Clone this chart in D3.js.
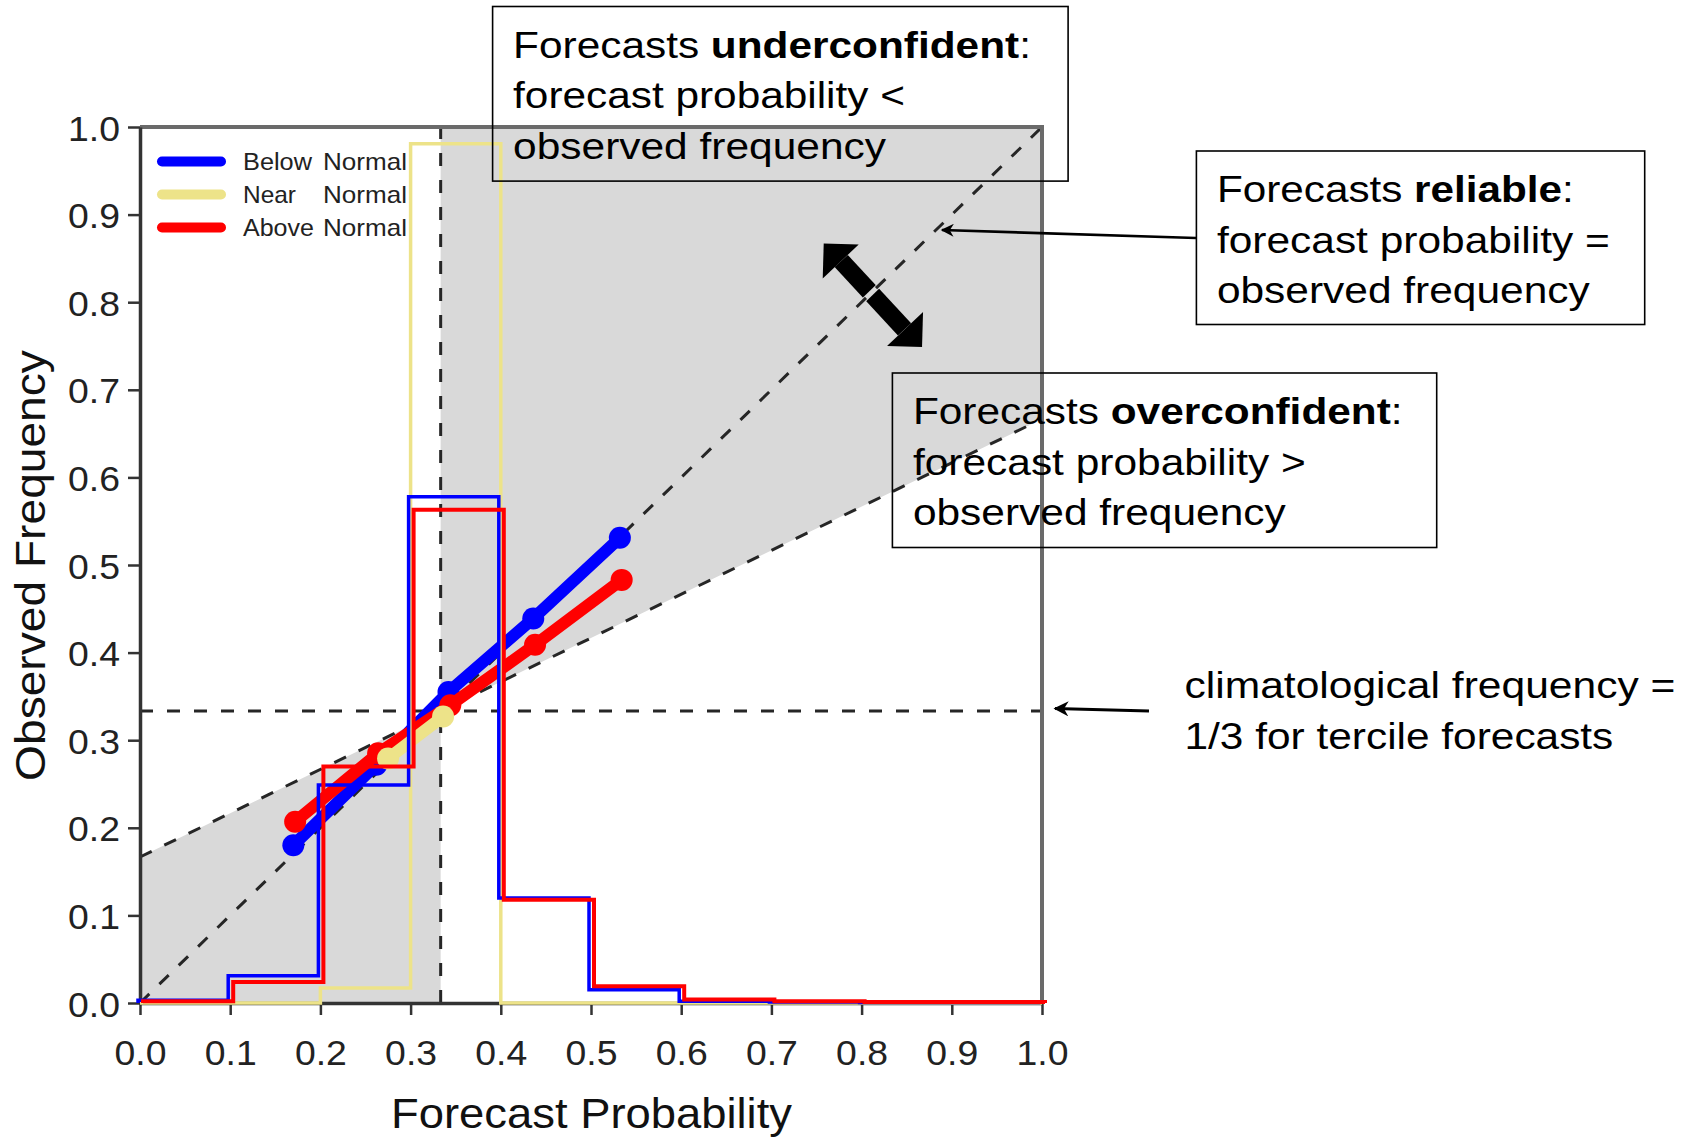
<!DOCTYPE html>
<html>
<head>
<meta charset="utf-8">
<script src="https://cdn.jsdelivr.net/npm/d3@7"></script>
<style>
  html, body { margin: 0; padding: 0; background: #ffffff; }
  svg { display: block; font-family: "Liberation Sans", Arial, Helvetica, sans-serif; }
</style>
</head>
<body>
<svg id="chart" width="1690" height="1137"></svg>
<script>
// Reliability diagram for tercile forecasts (Below / Near / Above Normal)

// axis ticks
const tickValues = [0, 0.1, 0.2, 0.3, 0.4, 0.5, 0.6, 0.7, 0.8, 0.9, 1.0];
const tickLabels = ["0.0", "0.1", "0.2", "0.3", "0.4", "0.5", "0.6", "0.7", "0.8", "0.9", "1.0"];

// forecast probability bins (left edges, width 0.1)
const binStarts = [0, 0.1, 0.2, 0.3, 0.4, 0.5, 0.6, 0.7, 0.8, 0.9];

// category names
const categories = ["Below Normal", "Near Normal", "Above Normal"];

// reliability curves: mean forecast probability vs observed frequency
const belowFcst = [0.170, 0.262, 0.342, 0.436, 0.532];
const belowObs  = [0.180, 0.272, 0.355, 0.439, 0.531];
const nearFcst  = [0.275, 0.336];
const nearObs   = [0.279, 0.327];
const aboveFcst = [0.172, 0.264, 0.344, 0.438, 0.534];
const aboveObs  = [0.207, 0.285, 0.340, 0.409, 0.483];

// relative frequency of forecasts in each probability bin
const belowHist = [0.003, 0.031, 0.249, 0.578, 0.120, 0.015, 0.002, 0.001, 0.0005, 0.0005];
const nearHist  = [0.000, 0.000, 0.017, 0.981, 0.000, 0.000, 0.000, 0.000, 0.000, 0.000];
const aboveHist = [0.002, 0.024, 0.270, 0.563, 0.118, 0.019, 0.004, 0.002, 0.001, 0.001];

// reference values
const climFreq = 1 / 3;

const svg = d3.select("#chart");
const X = d3.scaleLinear().domain([0, 1]).range([140, 1042]);
const Y = d3.scaleLinear().domain([0, 1]).range([1003, 127]);

const colors = { below: "#0000ff", near: "#ede389", above: "#ff0000" };
const shade = "#d9d9d9";
const dashCol = "#262626";
const noSkill = x => (x + climFreq) / 2;

// place a text (optionally mixed bold parts) and stretch it horizontally to a width
function fitText(parent, x, y, parts, size, width, opts = {}) {
  const t = parent.append("text")
    .attr("font-size", size)
    .attr("fill", opts.fill || "#000")
    .attr("text-anchor", opts.anchor || "start")
    .attr("letter-spacing", opts.spacing || 0);
  parts.forEach(p => {
    t.append("tspan").attr("font-weight", p[1] ? "bold" : "normal").text(p[0]);
  });
  const natural = t.node().getComputedTextLength();
  const k = width ? width / natural : 1;
  const rot = opts.rotate ? ` rotate(${opts.rotate})` : "";
  t.attr("transform", `translate(${x},${y})${rot} scale(${k},1)`);
  return t;
}

// ---- shaded skill region ----
const shadeLeft = [[0, 0], [0, noSkill(0)], [climFreq, noSkill(climFreq)], [climFreq, 0]];
const shadeRight = [[climFreq, noSkill(climFreq)], [1, noSkill(1)], [1, 1], [climFreq, 1]];
const poly = d3.line().x(d => X(d[0])).y(d => Y(d[1]));
[shadeLeft, shadeRight].forEach(p => {
  svg.append("path").attr("d", poly(p) + "Z").attr("fill", shade);
});

// ---- double arrow across the perfect-reliability line ----
const arrA = [X(0.758), Y(0.867)];
const arrB = [X(0.867), Y(0.749)];
const head = 35;
const arrowG = svg.append("g");
arrowG.append("line")
  .attr("x1", arrA[0] + head / 2).attr("y1", arrA[1] + head / 2)
  .attr("x2", arrB[0] - head / 2).attr("y2", arrB[1] - head / 2)
  .attr("stroke", "#000").attr("stroke-width", 18);
arrowG.append("path")
  .attr("d", `M${arrA[0]},${arrA[1]}L${arrA[0] + head},${arrA[1] + 1}L${arrA[0] - 1},${arrA[1] + head}Z`)
  .attr("fill", "#000");
arrowG.append("path")
  .attr("d", `M${arrB[0]},${arrB[1]}L${arrB[0] - head},${arrB[1] - 1}L${arrB[0] + 1},${arrB[1] - head}Z`)
  .attr("fill", "#000");
arrowG.append("line")
  .attr("x1", X(0.79)).attr("y1", Y(0.79)).attr("x2", X(0.83)).attr("y2", Y(0.83))
  .attr("stroke", shade).attr("stroke-width", 5);

// ---- dashed reference lines ----
const dashed = [
  [[0, 0], [1, 1]],
  [[0, noSkill(0)], [1, noSkill(1)]],
  [[0, climFreq], [1, climFreq]],
  [[climFreq, 0], [climFreq, 1]]
];
dashed.forEach(seg => {
  svg.append("path").attr("d", poly(seg))
    .attr("fill", "none").attr("stroke", dashCol)
    .attr("stroke-width", 3).attr("stroke-dasharray", "13,14");
});

// ---- frame and axes ----
svg.append("path")
  .attr("d", `M${X(0)},${Y(1)}L${X(1)},${Y(1)}L${X(1)},${Y(0)}`)
  .attr("fill", "none").attr("stroke", "#6a6a6a").attr("stroke-width", 4);

const xAxis = svg.append("g").attr("transform", `translate(0,${Y(0)})`)
  .call(d3.axisBottom(X).tickValues(tickValues).tickFormat((d, i) => tickLabels[i])
    .tickSize(12).tickSizeOuter(0));
const yAxis = svg.append("g").attr("transform", `translate(${X(0)},0)`)
  .call(d3.axisLeft(Y).tickValues(tickValues).tickFormat((d, i) => tickLabels[i])
    .tickSize(12).tickSizeOuter(0));
[xAxis, yAxis].forEach(a => {
  a.select(".domain").attr("stroke", "#333").attr("stroke-width", 3.5);
  a.selectAll(".tick line").attr("stroke", "#333").attr("stroke-width", 2.5);
  a.selectAll(".tick text").remove();
});
xAxis.selectAll(".tick").each(function (d, i) {
  fitText(d3.select(this), 0, 62, [[tickLabels[i], false]], 35, 52, { anchor: "middle", fill: "#222" });
});
yAxis.selectAll(".tick").each(function (d, i) {
  fitText(d3.select(this), -20, 13, [[tickLabels[i], false]], 35, 52, { anchor: "end", fill: "#222" });
});

// axis titles
fitText(svg, 591.5, 1128, [["Forecast Probability", false]], 42, 401, { anchor: "middle", fill: "#111" });
fitText(svg, 45, 565.5, [["Observed Frequency", false]], 42, 431, { anchor: "middle", fill: "#111", rotate: -90 });

// ---- reliability curves ----
const curves = [
  { fc: belowFcst, ob: belowObs, color: colors.below },
  { fc: aboveFcst, ob: aboveObs, color: colors.above },
  { fc: nearFcst,  ob: nearObs,  color: colors.near }
];
const relLine = d3.line().x(d => X(d[0])).y(d => Y(d[1]));
curves.forEach(c => {
  const pts = c.fc.map((f, i) => [f, c.ob[i]]);
  svg.append("path").attr("d", relLine(pts))
    .attr("fill", "none").attr("stroke", c.color)
    .attr("stroke-width", 12).attr("stroke-linejoin", "round");
  svg.append("g").selectAll("circle").data(pts).join("circle")
    .attr("cx", d => X(d[0])).attr("cy", d => Y(d[1])).attr("r", 11)
    .attr("fill", c.color);
});

// ---- forecast frequency histograms (step outlines) ----
function stepPoints(vals) {
  const pts = [[0, 0]];
  vals.forEach((v, i) => { pts.push([binStarts[i], v]); pts.push([binStarts[i] + 0.1, v]); });
  pts.push([1, 0]);
  return pts;
}
const hists = [
  { vals: nearHist,  color: colors.near,  dx: 0,  w: 3.5 },
  { vals: belowHist, color: colors.below, dx: -2, w: 3.5 },
  { vals: aboveHist, color: colors.above, dx: 3,  w: 4 }
];
hists.forEach(h => {
  const line = d3.line().x(d => X(d[0]) + h.dx).y(d => Y(d[1]));
  svg.append("path").attr("d", line(stepPoints(h.vals)))
    .attr("fill", "none").attr("stroke", h.color).attr("stroke-width", h.w);
});

// ---- legend ----
const legend = svg.append("g");
const legendColors = [colors.below, colors.near, colors.above];
const legendFirst = [["Below", 69], ["Near", 53], ["Above", 71]];
categories.forEach((c, i) => {
  const ly = 161.5 + i * 33;
  legend.append("line")
    .attr("x1", 162).attr("x2", 221).attr("y1", ly).attr("y2", ly)
    .attr("stroke", legendColors[i]).attr("stroke-width", 10).attr("stroke-linecap", "round");
  fitText(legend, 243, ly + 8, [[legendFirst[i][0], false]], 23, legendFirst[i][1], { fill: "#222" });
  fitText(legend, 323, ly + 8, [[c.split(" ")[1], false]], 23, 84, { fill: "#222" });
});

// ---- annotation boxes ----
const notes = svg.append("g");
function noteBox(x, y, w, h, lines) {
  notes.append("rect").attr("x", x).attr("y", y).attr("width", w).attr("height", h)
    .attr("fill", "none").attr("stroke", "#000").attr("stroke-width", 1.6);
  lines.forEach((ln, i) => fitText(notes, x + 20.5, y + 51 + i * 50.7, ln.parts, 37, ln.w));
}
noteBox(492.6, 6.5, 575.5, 174.6, [
  { parts: [["Forecasts ", false], ["underconfident", true], [":", false]], w: 518 },
  { parts: [["forecast probability <", false]], w: 392 },
  { parts: [["observed frequency", false]], w: 373 }
]);
noteBox(1196.4, 151, 448.3, 173.5, [
  { parts: [["Forecasts ", false], ["reliable", true], [":", false]], w: 357 },
  { parts: [["forecast probability =", false]], w: 393 },
  { parts: [["observed frequency", false]], w: 373 }
]);
noteBox(892.4, 373, 544.3, 174.5, [
  { parts: [["Forecasts ", false], ["overconfident", true], [":", false]], w: 490 },
  { parts: [["forecast probability >", false]], w: 393 },
  { parts: [["observed frequency", false]], w: 373 }
]);
fitText(notes, 1184.5, 698, [["climatological frequency =", false]], 37, 491);
fitText(notes, 1184.5, 749, [["1/3 for tercile forecasts", false]], 37, 429);

// arrows pointing to reference lines
const defs = svg.append("defs");
defs.append("marker").attr("id", "tip").attr("viewBox", "0 0 10 10")
  .attr("refX", 9).attr("refY", 5).attr("markerWidth", 6).attr("markerHeight", 5)
  .attr("markerUnits", "strokeWidth").attr("orient", "auto")
  .append("path").attr("d", "M0,0L10,5L0,10L3,5Z").attr("fill", "#000");
notes.append("line")
  .attr("x1", 1196).attr("y1", 238).attr("x2", 942).attr("y2", 230)
  .attr("stroke", "#000").attr("stroke-width", 2.6).attr("marker-end", "url(#tip)");
notes.append("line")
  .attr("x1", 1149).attr("y1", Y(climFreq)).attr("x2", 1055).attr("y2", Y(climFreq) - 2.5)
  .attr("stroke", "#000").attr("stroke-width", 3).attr("marker-end", "url(#tip)");
</script>
</body>
</html>
